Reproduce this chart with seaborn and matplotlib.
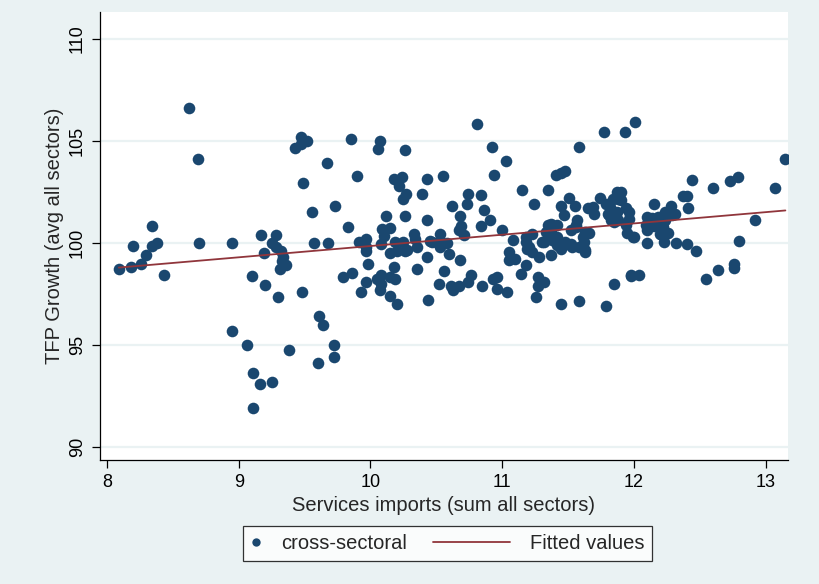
import numpy as np
import pandas as pd
import matplotlib
matplotlib.use("Agg")
import matplotlib.pyplot as plt
import seaborn as sns
from matplotlib.lines import Line2D
from matplotlib.legend_handler import HandlerLine2D

# ---- data ----
services_imports = [
    8.62, 8.69, 8.34, 8.20, 8.34, 8.38, 8.70, 8.95, 9.17, 9.28, 9.19, 9.25, 9.28,
    8.09, 8.18, 8.26, 8.30, 8.43, 9.10, 9.20, 9.30, 9.31, 8.95, 9.06, 9.11, 9.16,
    9.25, 9.11, 9.32, 9.34, 9.36, 9.33,
    9.47, 9.52, 9.43, 9.47, 9.85, 10.07, 10.06, 10.26, 9.67, 9.49, 9.90, 10.18,
    10.24, 10.22, 10.27, 10.25, 10.43, 10.55, 10.39, 9.56, 9.73, 10.62, 10.12,
    10.26, 10.43, 9.83, 10.09, 10.15, 10.10, 10.33, 10.34, 10.53, 10.67, 10.68,
    9.57, 9.68, 9.91, 9.97, 9.97, 10.19, 10.25, 10.08, 10.47, 10.51, 10.58, 9.97,
    9.98, 10.15, 10.20, 10.26, 10.35, 10.43, 10.60, 10.68, 9.79, 9.86, 10.18,
    10.35, 10.56, 10.52, 10.61, 10.63, 10.67, 9.97, 9.93, 10.05, 10.08, 10.07,
    10.15, 10.19, 10.15, 10.20, 10.44, 9.48, 9.61, 9.64, 9.72, 9.72, 9.38, 9.60,
    10.53, 10.45, 10.53, 10.28, 10.08,
    10.81, 10.92, 11.03, 10.94, 11.58, 11.77, 11.93, 11.41, 11.45, 11.48, 11.15,
    11.35, 10.74, 10.84, 10.73, 10.86, 10.91, 10.84, 11.24, 11.51, 11.45, 11.55,
    11.47, 11.74, 11.79, 11.87, 11.88, 11.84, 11.65, 11.69, 11.70, 11.57, 11.56,
    11.81, 11.87, 11.94, 11.85, 11.00, 11.08, 11.18, 11.23, 11.30, 11.35, 11.42,
    11.37, 11.42, 11.49, 11.52, 11.61, 11.66, 11.95, 10.69, 10.71, 11.19, 11.23,
    11.28, 11.37, 11.45, 11.52, 11.58, 11.63, 11.05, 11.05, 11.10, 11.18, 11.14,
    10.76, 10.74, 10.85, 10.93, 10.96, 10.96, 11.04, 11.27, 11.32, 11.27, 11.26,
    11.45, 11.58, 11.79, 11.85, 11.98,
    11.37, 11.56, 11.63, 11.33, 11.18, 11.20, 11.32, 11.38, 11.42, 11.48, 11.53,
    11.62, 11.63, 11.82, 11.80, 11.96, 11.96, 11.88, 11.83, 11.94, 11.99,
    12.01, 13.15, 12.44, 12.60, 12.73, 12.79, 13.07, 12.92, 12.80, 12.40, 12.37,
    12.41, 12.15, 12.28, 12.24, 12.29, 11.90, 11.90, 12.10, 12.14, 12.18, 12.22,
    12.09, 12.00, 12.10, 12.23, 12.32, 12.40, 12.47, 12.15, 12.20, 12.26, 11.98,
    12.04, 12.55, 12.64, 12.76, 12.76,
    12.13, 12.24, 12.31, 12.10, 12.21, 12.22,
]
tfp_growth = [
    106.6, 104.1, 100.8, 99.85, 99.86, 100.0, 100.0, 100.0, 100.4, 100.4, 99.5, 100.0, 99.8,
    98.7, 98.8, 98.95, 99.4, 98.4, 98.35, 97.95, 97.35, 98.7, 95.7, 95.0, 93.6, 93.1,
    93.2, 91.9, 99.6, 99.3, 98.9, 99.1,
    105.2, 104.96, 104.65, 104.85, 105.1, 105.0, 104.6, 104.55, 103.9, 102.95, 103.25, 103.1,
    103.2, 102.8, 102.4, 102.15, 103.1, 103.25, 102.4, 101.5, 101.8, 101.8, 101.3,
    101.3, 101.1, 100.75, 100.65, 100.7, 100.35, 100.45, 100.2, 100.45, 100.6, 101.3,
    100.0, 100.0, 100.05, 100.2, 99.8, 100.05, 100.05, 99.96, 100.04, 100.0, 100.0, 99.6,
    98.96, 99.5, 99.6, 99.6, 99.8, 99.3, 99.45, 99.15, 98.3, 98.5, 98.8,
    98.7, 98.6, 98.0, 97.9, 97.7, 97.9, 98.1, 97.6, 98.2, 98.4, 97.7,
    98.3, 98.2, 97.4, 97.0, 97.2, 97.6, 96.4, 95.95, 95.0, 94.4, 94.75, 94.1,
    100.1, 100.1, 99.8, 99.63, 98.0,
    105.8, 104.7, 104.0, 103.3, 104.7, 105.4, 105.4, 103.3, 103.4, 103.5, 102.6,
    102.6, 102.4, 102.35, 101.9, 101.6, 101.1, 100.8, 101.9, 102.2, 101.8, 101.8,
    101.35, 102.2, 101.9, 102.5, 102.15, 102.15, 101.7, 101.75, 101.4, 101.1, 100.86,
    101.35, 101.5, 101.7, 101.0, 100.6, 100.15, 100.04, 100.45, 100.04, 100.86, 100.86,
    100.6, 100.3, 99.96, 100.6, 100.3, 100.5, 100.5, 100.8, 100.4, 99.7, 99.55,
    99.3, 99.4, 99.7, 99.96, 99.8, 99.55, 99.55, 99.15, 99.2, 98.9, 98.45,
    98.4, 98.1, 97.9, 98.2, 98.3, 97.75, 97.6, 98.3, 98.1, 97.9, 97.35,
    97.0, 97.15, 96.9, 98.0, 98.35,
    100.94, 100.77, 100.53, 100.53, 100.28, 99.8, 100.04, 100.12, 99.88, 100.04, 99.8,
    100.04, 99.63, 101.75, 101.43, 101.5, 101.18, 101.1, 101.1, 100.86, 100.28,
    105.9, 104.1, 103.05, 102.7, 103.0, 103.2, 102.7, 101.1, 100.1, 102.3, 102.3,
    101.7, 101.9, 101.8, 101.5, 101.35, 102.5, 102.1, 101.25, 101.2, 101.25, 100.95,
    100.85, 100.3, 99.99, 100.04, 99.99, 99.96, 99.6, 100.8, 100.45, 100.5, 98.4,
    98.4, 98.2, 98.65, 98.95, 98.75,
    100.94, 101.1, 101.43, 100.6, 100.37, 100.77,
]
x_ticks = [8, 9, 10, 11, 12, 13]
y_ticks = [90, 95, 100, 105, 110]
x_label = "Services imports (sum all sectors)"
y_label = "TFP Growth (avg all sectors)"
series_label = "cross-sectoral"
fit_label = "Fitted values"

df = pd.DataFrame({"x": services_imports, "y": tfp_growth})

# ---- style ----
NAVY = "#1a476f"
MAROON = "#90353b"
BG = "#eaf2f3"
sns.set_theme(style="white")
plt.rcParams["font.family"] = ["Liberation Sans", "DejaVu Sans"]
FS_TICK = 13
FS_LAB = 14.5

fig = plt.figure(figsize=(8.2, 5.84), dpi=100, facecolor=BG)
ax = fig.add_axes([100 / 820, 1 - 460 / 584, 688 / 820, 448 / 584])
ax.set_facecolor("white")

sns.scatterplot(data=df, x="x", y="y", ax=ax, color=NAVY, s=70,
                linewidth=0, label=series_label, legend=False, zorder=3)
sns.regplot(data=df, x="x", y="y", ax=ax, scatter=False, ci=None,
            color=MAROON, line_kws={"linewidth": 1.3, "zorder": 4})

ax.set_xlim(7.947, 13.17)
ax.set_ylim(89.36, 111.3)
ax.set_xticks(x_ticks)
ax.set_yticks(y_ticks)
ax.set_xticklabels([str(t) for t in x_ticks], fontsize=FS_TICK)
ax.set_yticklabels([str(t) for t in y_ticks], fontsize=FS_TICK, rotation=90, va="center")
ax.set_xlabel(x_label, fontsize=FS_LAB, labelpad=4)
ax.set_ylabel(y_label, fontsize=FS_LAB, labelpad=4)
ax.yaxis.grid(True, color=BG, linewidth=1.6, zorder=0)
ax.xaxis.grid(False)
ax.set_axisbelow(True)
for side in ["top", "right"]:
    ax.spines[side].set_visible(False)
for side in ["left", "bottom"]:
    ax.spines[side].set_color("black")
    ax.spines[side].set_linewidth(0.9)
ax.tick_params(axis="both", which="major", direction="out", length=6,
               width=0.9, color="black", labelcolor="black", pad=4, left=True, bottom=True)


class LongLine(HandlerLine2D):
    def create_artists(self, legend, orig_handle, xdescent, ydescent, width,
                       height, fontsize, trans):
        extra = 3.3 * fontsize
        ydata = np.full(2, ((height - ydescent) / 2))
        line = Line2D([-xdescent - extra, -xdescent + width], ydata,
                      color=MAROON, linewidth=1.3)
        line.set_transform(trans)
        return [line]


h_pt = Line2D([], [], linestyle="none", marker="o", markersize=6,
              markerfacecolor=NAVY, markeredgewidth=0)
h_ln = Line2D([], [], color=MAROON, linewidth=1.3)
leg = fig.legend([h_pt, h_ln], [series_label, fit_label], ncol=2,
                 loc="center", bbox_to_anchor=(447.5 / 820, 1 - 543.5 / 584),
                 fontsize=FS_LAB, frameon=True, fancybox=False, shadow=False,
                 handlelength=0.5, handletextpad=1.0, columnspacing=4.6,
                 borderpad=0.4, borderaxespad=0,
                 handler_map={h_ln: LongLine(), h_pt: HandlerLine2D(numpoints=1)})
leg.get_frame().set_edgecolor("black")
leg.get_frame().set_linewidth(0.9)
leg.get_frame().set_facecolor("white")

fig.savefig("out.png", dpi=100, facecolor=BG)
